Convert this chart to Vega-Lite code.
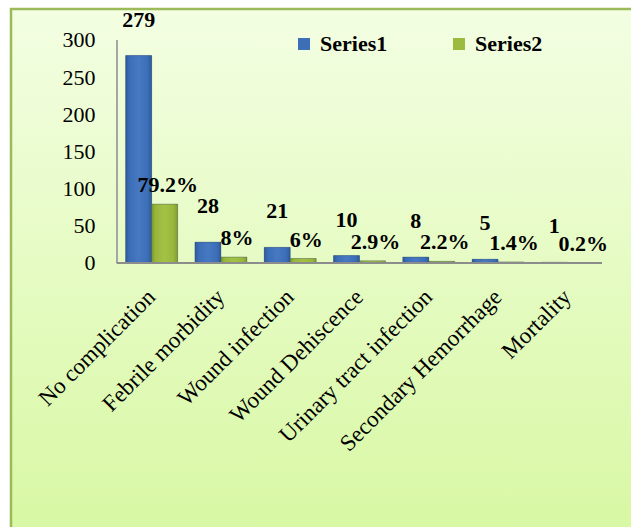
{
  "$schema": "https://vega.github.io/schema/vega-lite/v6.json",
  "width": 622,
  "height": 520,
  "autosize": {"type": "none"},
  "padding": {"left": 11, "top": 9, "right": 0, "bottom": 0},
  "background": "#FFFFFF",
  "config": {
    "view": {
      "stroke": "#9BBB59",
      "strokeWidth": 2.5,
      "fill": {"gradient": "linear", "x1": 0, "y1": 0, "x2": 0, "y2": 1, "stops": [{"offset": 0, "color": "#F3FEE2"}, {"offset": 1, "color": "#D8F8A4"}]}
    },
    "font": "Liberation Serif, Times New Roman, DejaVu Serif, serif"
  },
  "data": {
    "values": [
      {"cat": "No complication", "series": "Series1", "value": 279, "label": "279"},
      {"cat": "No complication", "series": "Series2", "value": 79.2, "label": "79.2%"},
      {"cat": "Febrile morbidity", "series": "Series1", "value": 28, "label": "28"},
      {"cat": "Febrile morbidity", "series": "Series2", "value": 8, "label": "8%"},
      {"cat": "Wound infection", "series": "Series1", "value": 21, "label": "21"},
      {"cat": "Wound infection", "series": "Series2", "value": 6, "label": "6%"},
      {"cat": "Wound Dehiscence", "series": "Series1", "value": 10, "label": "10"},
      {"cat": "Wound Dehiscence", "series": "Series2", "value": 2.9, "label": "2.9%"},
      {"cat": "Urinary tract infection", "series": "Series1", "value": 8, "label": "8"},
      {"cat": "Urinary tract infection", "series": "Series2", "value": 2.2, "label": "2.2%"},
      {"cat": "Secondary Hemorrhage", "series": "Series1", "value": 5, "label": "5"},
      {"cat": "Secondary Hemorrhage", "series": "Series2", "value": 1.4, "label": "1.4%"},
      {"cat": "Mortality", "series": "Series1", "value": 1, "label": "1"},
      {"cat": "Mortality", "series": "Series2", "value": 0.2, "label": "0.2%"}
    ]
  },
  "encoding": {
    "x": {
      "field": "cat",
      "type": "nominal",
      "sort": null,
      "scale": {"range": [106, 591], "paddingInner": 0.25, "paddingOuter": 0.125},
      "axis": {
        "title": null,
        "offset": -266,
        "labelAngle": -45,
        "labelAlign": "right",
        "labelBaseline": "middle",
        "labelPadding": 30,
        "labelFontSize": 23,
        "labelColor": "#000000",
        "labelLimit": 0,
        "labelOverlap": false,
        "ticks": false,
        "domain": false
      }
    },
    "xOffset": {"field": "series", "type": "nominal", "scale": {"paddingInner": 0, "paddingOuter": 0}},
    "y": {
      "field": "value",
      "type": "quantitative",
      "scale": {"domain": [-357.9, 341.7], "nice": false, "zero": false},
      "axis": {
        "title": null,
        "offset": -106,
        "values": [0, 50, 100, 150, 200, 250, 300],
        "grid": false,
        "ticks": false,
        "tickSize": 0,
        "labelPadding": 22,
        "labelFontSize": 22,
        "labelColor": "#000000",
        "domain": false
      }
    }
  },
  "layer": [
    {
      "mark": {"type": "rule", "color": "#A6A6A6", "strokeWidth": 1.5},
      "encoding": {
        "x": {"datum": "No complication", "bandPosition": -0.167},
        "xOffset": null,
        "y": {"datum": 0},
        "y2": {"datum": 300}
      }
    },
    {
      "mark": {"type": "bar"},
      "encoding": {
        "y2": {"datum": 0},
        "color": {
          "field": "series",
          "type": "nominal",
          "scale": {"domain": ["Series1", "Series2"], "range": ["#3D6FB6", "#9CBB3E"]},
          "legend": {
            "orient": "none",
            "legendX": 282,
            "legendY": 24,
            "direction": "horizontal",
            "title": null,
            "symbolType": "square",
            "symbolSize": 144,
            "symbolStrokeWidth": 0,
            "labelFontSize": 22,
            "labelFontWeight": "bold",
            "labelColor": "#000000",
            "labelOffset": 5,
            "columnPadding": 60
          }
        }
      }
    },
    {
      "mark": {"type": "bar", "stroke": "#33485F", "strokeOpacity": 0.45, "strokeWidth": 0.8},
      "encoding": {
        "y2": {"datum": 0},
        "color": {
          "condition": {
            "test": "datum.series == 'Series1'",
            "value": {"gradient": "linear", "x1": 0, "y1": 0, "x2": 1, "y2": 0, "stops": [{"offset": 0, "color": "#2D5A9A"}, {"offset": 0.15, "color": "#3B6EB6"}, {"offset": 0.5, "color": "#4679C2"}, {"offset": 0.85, "color": "#3B6EB6"}, {"offset": 1, "color": "#2D5A9A"}]}
          },
          "value": {"gradient": "linear", "x1": 0, "y1": 0, "x2": 1, "y2": 0, "stops": [{"offset": 0, "color": "#809B2E"}, {"offset": 0.15, "color": "#97B63C"}, {"offset": 0.5, "color": "#A3C245"}, {"offset": 0.85, "color": "#97B63C"}, {"offset": 1, "color": "#809B2E"}]}
        }
      }
    },
    {
      "mark": {"type": "rule", "color": "#8C8C8C", "strokeWidth": 2},
      "encoding": {
        "x": {"datum": "No complication", "bandPosition": -0.167},
        "x2": {"datum": "Mortality", "bandPosition": 1.163},
        "xOffset": null,
        "y": {"datum": 0}
      }
    },
    {
      "transform": [{"filter": "datum.series == 'Series1'"}],
      "mark": {"type": "text", "dy": -36, "fontWeight": "bold", "fontSize": 22, "color": "#000000"},
      "encoding": {"text": {"field": "label"}}
    },
    {
      "transform": [{"filter": "datum.series == 'Series2'"}],
      "mark": {"type": "text", "dy": -19, "dx": 3, "fontWeight": "bold", "fontSize": 22, "color": "#000000"},
      "encoding": {"text": {"field": "label"}}
    }
  ]
}
